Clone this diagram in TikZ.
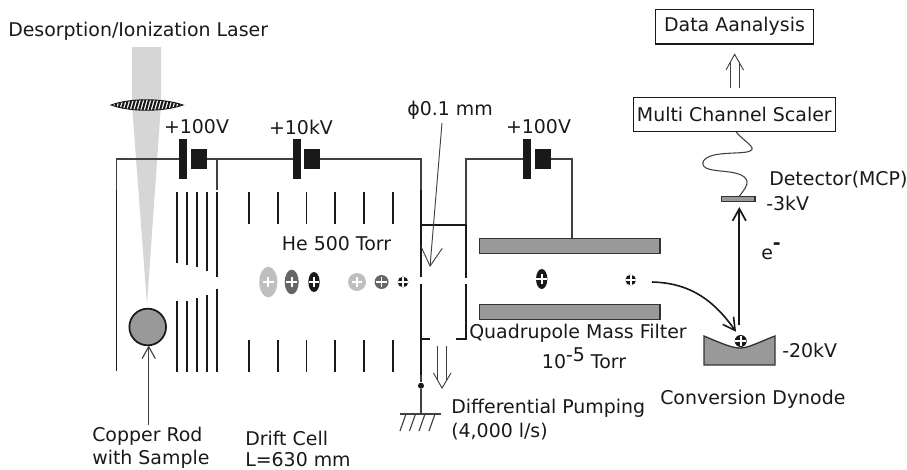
\documentclass[tikz,border=0pt]{standalone}
\usepackage{fontspec}
\setmainfont{DejaVu Sans}
\usepackage{tikz}
\usetikzlibrary{arrows.meta,calc,positioning,shapes.geometric}
\definecolor{inkc}{gray}{0.1}
\tikzset{
  wire/.style={line width=0.85pt,draw=black!75},
  grid/.style={line width=1.4pt,draw=inkc},
  metal/.style={fill=black!40,draw=black!80,line width=1pt},
  plateL/.style={rectangle,fill=inkc,inner sep=0pt,minimum width=6pt,minimum height=30pt},
  plateS/.style={rectangle,fill=inkc,inner sep=0pt,minimum width=12pt,minimum height=15pt},
  lbl/.style={font=\fontsize{14.2}{17}\selectfont,text=inkc,inner sep=0pt},
  tagbox/.style={lbl,draw=inkc,line width=0.9pt,rectangle,inner sep=0pt},
  ion/.style n args={3}{ellipse,fill=#1,inner sep=0pt,minimum width=#2,minimum height=#3,
    path picture={
      \draw[white,line width=1.3pt]
        ($(path picture bounding box.center)+(-4pt,0)$) -- ($(path picture bounding box.center)+(4pt,0)$)
        ($(path picture bounding box.center)+(0,-4pt)$) -- ($(path picture bounding box.center)+(0,4pt)$);
    }},
}
\begin{document}
\begin{tikzpicture}[x=0.75pt,y=-0.75pt,>={Straight Barb[length=9pt,width=10pt]}]
    \useasboundingbox (0,0) rectangle (907,469);
    % laser and lens
    \fill[black!16] (132,47) -- (161,47) -- (161,105) -- (147,305) -- (132,105) -- cycle;
    \node[lbl,anchor=west] (laser) at (8,31) {Desorption/Ionization Laser};
    \begin{scope}
      \path[clip] (111,105) .. controls (130,98) and (163,98) .. (183,105) .. controls (163,112) and (130,112) .. (111,105) -- cycle;
      \fill[white] (105,95) rectangle (190,115);
      \foreach \hx in {114,117.5,...,182}
        \draw[line width=1.5pt,inkc] (\hx,112) -- (\hx+4,98);
    \end{scope}
    \draw[inkc,line width=0.7pt] (111,105) .. controls (130,98) and (163,98) .. (183,105) .. controls (163,112) and (130,112) .. (111,105) -- cycle;
    % batteries
    \node[plateL] (batAl) at (183,159) {};
    \node[plateS] (batAs) at (199,159) {};
    \node[plateL] (batBl) at (297,159) {};
    \node[plateS] (batBs) at (312,159) {};
    \node[plateL] (batCl) at (527,159) {};
    \node[plateS] (batCs) at (543,159) {};
    \node[lbl] (voltA) at (196.5,127) {+100V};
    \node[lbl] (voltB) at (301,127) {+10kV};
    \node[lbl] (voltC) at (538.5,127) {+100V};
    % wires
    \coordinate (wallA) at (116.5,190);
    \coordinate (wallB) at (217,190);
    \coordinate (wallC) at (421,190);
    \coordinate (wallD) at (466,224.7);
    \coordinate (rodtop) at (572,238.3);
    \draw[wire] (wallA) -- (116.5,159) -- (batAl);
    \draw[wire] (batAs) -- (batBl);
    \draw[wire] (wallB) -- (217,159);
    \draw[wire] (batBs) -- (421,159) -- (wallC);
    \draw[wire] (wallD) -- (466,159) -- (batCl);
    \draw[wire] (batCs) -- (572,159) -- (rodtop);
    % source electrodes
    \draw[grid] (116.5,190) -- (116.5,371);
    \foreach \ex/\ey/\ez in {177.3/262.7/301,187.3/264.7/301,197.3/266.7/298,207/271/295,217/277/289}{
      \draw[grid] (\ex,191.5) -- (\ex,\ey);
      \draw[grid] (\ex,\ez) -- (\ex,372);
    }
    % drift cell rings
    \foreach \ex in {249,278,306.5,335,364,393}{
      \draw[grid] (\ex,191.5) -- (\ex,224);
      \draw[grid] (\ex,340) -- (\ex,372);
    }
    % differential pumping chamber
    \draw[grid] (wallC) -- (421,277);
    \draw[grid] (421,284) -- (421,375);
    \draw[grid] (421,224.7) -- (wallD) -- (466,278);
    \draw[grid] (466,284) -- (466,339) -- (456,339);
    \draw[grid] (421,339) -- (430,339);
    \node[circle,fill=inkc,inner sep=0pt,minimum size=4.5pt] (gnddot) at (421,385.7) {};
    \coordinate (gnd) at (421,414);
    \draw[wire] (421,375) -- (gnddot) -- (gnd);
    \draw[wire] (400,414) -- (441,414);
    \foreach \gx in {406,415.5,425,435}
      \draw[wire] (\gx,414) -- (\gx-6,431);
    % quadrupole
    \draw[metal] (479.3,238.3) rectangle (660,253.7);
    \draw[metal] (479.3,304.3) rectangle (660,319.7);
    % ions
    \node[ion={black!25}{13.5pt}{23pt}] (ionA) at (268.3,282) {};
    \node[ion={black!60}{10.5pt}{18.5pt}] (ionB) at (291.7,282) {};
    \node[ion={black!90}{8.5pt}{15pt}] (ionC) at (314,282) {};
    \node[ion={black!25}{13.5pt}{13.5pt}] (ionD) at (357,282) {};
    \node[ion={black!60}{10.5pt}{10.5pt}] (ionE) at (381.6,282) {};
    \node[ion={black!90}{8pt}{8pt}] (ionF) at (403,282) {};
    \node[ion={black!90}{8.5pt}{15pt}] (ionG) at (541.7,279) {};
    \node[ion={black!90}{8pt}{8pt}] (ionH) at (630.7,280) {};
    % sample rod
    \node[circle,fill=black!40,draw=inkc,line width=1.3pt,inner sep=0pt,minimum size=27.5pt] (rod) at (147.7,327) {};
    \node[lbl,anchor=west] (rodA) at (92,436) {Copper Rod};
    \node[lbl,anchor=west] (rodB) at (92,459) {with Sample};
    \coordinate (rodfoot) at (148.7,425);
    \draw[->,wire] (rodfoot) -- (148.7,345.5);
    % conversion dynode and detector
    \draw[metal] (704,336) .. controls (725,345) and (733,348) .. (740,348) .. controls (748,348) and (757,343) .. (775,336) -- (775,365) -- (704,365) -- cycle;
    \node[ion={black!90}{9pt}{9pt}] (ionJ) at (740.7,341) {};
    \draw[metal,line width=0.8pt] (721.7,196.7) rectangle (755,201.3);
    \coordinate (efoot) at (739.3,325);
    \draw[->,line width=1.3pt,inkc] (efoot) -- (739.3,207);
    \coordinate (flyA) at (652,282);
    \coordinate (flyB) at (736,331.7);
    \draw[->,line width=1.2pt,inkc] (flyA) .. controls (692,283) and (715,302) .. (flyB);
    % boxes
    \node[tagbox,minimum width=119pt,minimum height=26pt] (data) at (734.5,26.7) {Data Aanalysis};
    \node[tagbox,minimum width=151.5pt,minimum height=25.5pt] (mcs) at (734.3,114.7) {Multi Channel Scaler};
    \coordinate (cableA) at (736,131.7);
    \coordinate (cableB) at (739,196.7);
    \draw[wire,line width=0.8pt] (cableA) .. controls (742,140) and (758,148) .. (750,151) .. controls (742,155) and (708,150) .. (703,162) .. controls (700,176) and (742,166) .. (747,181) .. controls (748,186) and (743,191) .. (cableB);
    % double arrows
    \draw[wire,line width=0.7pt] (730,88) -- (730,62) (739.3,88) -- (739.3,62);
    \draw[wire,line width=0.7pt] (726,70) -- (734.6,54.3) -- (743.5,70);
    \draw[wire,line width=0.7pt] (437.7,346) -- (437.7,380) (446.7,346) -- (446.7,380);
    \draw[wire,line width=0.7pt] (433.5,373) -- (442,388) -- (451,373);
    % pinhole pointer
    \coordinate (pinfoot) at (442,123);
    \draw[-{Straight Barb[length=14pt,width=16pt]},wire,line width=0.7pt] (pinfoot) -- (430,267);
    % labels
    \node[lbl,anchor=west] (pin) at (407,110) {ϕ0.1 mm};
    \node[lbl] (he) at (336.5,244) {He 500 Torr};
    \node[lbl,anchor=west] (quad) at (469,333) {Quadrupole Mass Filter};
    \node[lbl,anchor=base west] (press) at (541.7,368) {10\raisebox{5pt}{-5} Torr};
    \node[lbl,anchor=west] (pumpA) at (451,408) {Differential Pumping};
    \node[lbl,anchor=west] (pumpB) at (451,432) {(4,000 l/s)};
    \node[lbl,anchor=west] (conv) at (660,399) {Conversion Dynode};
    \node[lbl,anchor=west] (dynv) at (782,350) {-20kV};
    \node[lbl,anchor=west] (cellA) at (245,438) {Drift Cell};
    \node[lbl,anchor=base west] (cellB) at (245,466) {L=630 mm};
    \node[lbl,anchor=west] (det) at (769,180) {Detector(MCP)};
    \node[lbl,anchor=west] (detv) at (766,203) {-3kV};
    \node[lbl,anchor=base west] (elec) at (761,259) {e\raisebox{7pt}{\textbf{-}}};
  \end{tikzpicture}
\end{document}
